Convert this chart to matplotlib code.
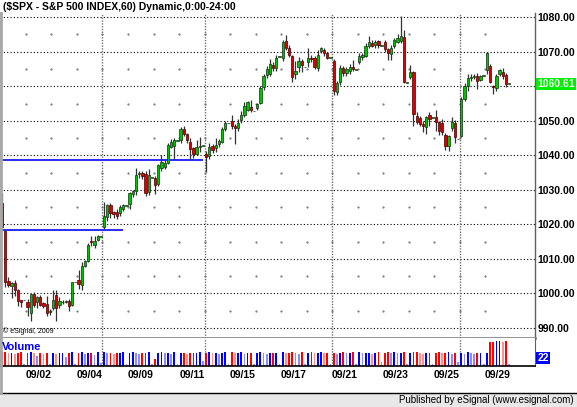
import matplotlib
matplotlib.use("Agg")
import matplotlib.pyplot as plt
import matplotlib.transforms as mtransforms
from matplotlib.patches import Rectangle
from matplotlib.lines import Line2D
import numpy as np

plt.rcParams['font.family'] = ['Liberation Sans', 'DejaVu Sans']

# trading days on the chart, 8 hourly bars each (last one is the 16:00 stub)
days = ['09/01', '09/02', '09/03', '09/04', '09/08', '09/09', '09/10', '09/11',
        '09/14', '09/15', '09/16', '09/17', '09/18', '09/21', '09/22', '09/23',
        '09/24', '09/25', '09/28', '09/29']
week_starts = ['09/08', '09/14', '09/21', '09/28']
bars_per_day = 8

opens = [1026.3, 1018.0, 1003.5, 1002.2, 1003.0, 1001.1, 998.0, 998.0,
         997.5, 994.4, 999.7, 997.4, 999.0, 997.2, 997.0, 994.5,
         995.9, 999.6, 996.8, 997.4, 997.6, 997.7, 996.7, 1003.2,
         1003.8, 1002.5, 1008.0, 1009.4, 1015.3, 1014.0, 1015.5, 1016.4,
         1019.2, 1022.0, 1025.5, 1023.5, 1023.5, 1023.2, 1024.5, 1025.4,
         1025.8, 1028.9, 1029.6, 1034.6, 1034.9, 1034.6, 1029.4, 1033.4,
         1033.3, 1031.8, 1036.3, 1036.6, 1037.9, 1042.4, 1042.7, 1044.1,
         1044.3, 1047.5, 1046.2, 1044.0, 1042.0, 1040.5, 1042.5, 1042.7,
         1040.3, 1039.7, 1042.7, 1042.0, 1043.2, 1043.8, 1047.7, 1049.3,
         1049.8, 1048.5, 1048.0, 1050.1, 1051.8, 1053.0, 1054.0, 1052.7,
         1053.8, 1055.1, 1059.7, 1063.3, 1063.5, 1066.1, 1065.2, 1068.6,
         1068.1, 1073.0, 1071.2, 1068.7, 1063.5, 1065.6, 1067.4, 1065.5,
         1066.9, 1068.3, 1068.3, 1065.4, 1070.1, 1070.5, 1069.5, 1068.3,
         1067.3, 1058.2, 1061.2, 1065.2, 1063.8, 1064.4, 1065.5, 1064.7,
         1066.9, 1068.5, 1068.9, 1071.7, 1072.5, 1071.9, 1073.2, 1071.7,
         1072.9, 1070.9, 1069.4, 1071.7, 1072.9, 1073.0, 1074.4, 1060.9,
         1062.6, 1064.2, 1051.5, 1050.7, 1049.1, 1048.1, 1051.7, 1050.8,
         1051.0, 1049.6, 1049.3, 1045.9, 1042.6, 1047.9, 1049.4, 1044.6,
         1045.7, 1056.3, 1060.0, 1062.3, 1062.6, 1063.0, 1061.8, 1063.0,
         1064.6, 1065.8, 1060.2, 1059.4, 1063.4, 1064.2, 1063.2, 1060.6]
highs = [1029.0, 1018.4, 1004.9, 1003.3, 1003.8, 1001.3, 998.2, 998.0,
         998.4, 999.9, 1000.3, 999.2, 999.5, 997.4, 999.2, 995.5,
         1001.1, 1001.1, 998.9, 998.0, 998.0, 998.4, 1003.3, 1003.2,
         1006.9, 1009.0, 1009.6, 1014.5, 1016.5, 1016.5, 1016.9, 1016.4,
         1026.6, 1026.0, 1026.2, 1024.0, 1024.5, 1025.5, 1026.0, 1025.4,
         1029.4, 1030.0, 1036.2, 1035.5, 1035.5, 1035.5, 1036.0, 1033.4,
         1034.0, 1037.5, 1040.0, 1038.5, 1043.5, 1044.8, 1045.0, 1044.1,
         1048.2, 1048.6, 1046.5, 1045.0, 1042.5, 1044.5, 1045.2, 1042.7,
         1041.2, 1043.5, 1043.2, 1045.0, 1044.8, 1048.2, 1050.0, 1049.3,
         1051.8, 1049.0, 1050.5, 1052.7, 1055.5, 1055.8, 1056.0, 1052.7,
         1055.2, 1060.0, 1063.5, 1066.0, 1068.0, 1066.9, 1069.0, 1068.6,
         1073.5, 1074.8, 1072.0, 1069.1, 1067.4, 1068.5, 1068.0, 1065.5,
         1071.0, 1069.0, 1068.8, 1070.4, 1071.5, 1071.2, 1070.0, 1068.3,
         1068.0, 1061.5, 1066.2, 1066.0, 1065.5, 1066.3, 1067.7, 1064.7,
         1069.5, 1069.5, 1072.5, 1074.5, 1073.5, 1073.5, 1073.5, 1071.7,
         1073.5, 1071.0, 1072.0, 1074.0, 1075.0, 1080.2, 1076.3, 1060.9,
         1066.1, 1064.5, 1052.5, 1051.5, 1050.0, 1051.5, 1052.5, 1050.8,
         1053.0, 1050.0, 1050.5, 1046.5, 1046.0, 1051.0, 1050.2, 1044.6,
         1057.0, 1061.0, 1063.5, 1063.5, 1063.6, 1063.8, 1063.3, 1063.0,
         1070.0, 1066.5, 1060.5, 1063.5, 1065.0, 1065.3, 1063.8, 1060.6]
lows = [1018.4, 1002.0, 1002.0, 998.6, 999.4, 996.5, 996.1, 998.0,
        993.4, 991.9, 996.0, 995.7, 996.5, 995.7, 993.6, 993.8,
        995.3, 992.0, 995.8, 997.0, 997.2, 995.0, 996.5, 1003.2,
        1001.3, 1001.0, 1007.6, 1009.0, 1013.6, 1013.3, 1015.2, 1016.4,
        1018.8, 1021.0, 1021.8, 1021.9, 1021.5, 1022.5, 1024.0, 1025.4,
        1024.4, 1028.0, 1028.5, 1033.5, 1033.0, 1028.3, 1028.5, 1033.4,
        1028.7, 1031.0, 1035.5, 1035.9, 1037.5, 1042.0, 1039.0, 1044.1,
        1043.5, 1045.5, 1043.5, 1039.0, 1039.2, 1040.0, 1041.0, 1042.7,
        1035.2, 1039.0, 1040.8, 1041.0, 1042.5, 1043.5, 1047.0, 1049.3,
        1047.5, 1043.4, 1047.0, 1049.5, 1051.0, 1052.7, 1052.5, 1052.7,
        1053.0, 1054.8, 1059.0, 1062.5, 1063.0, 1064.5, 1064.5, 1068.6,
        1067.4, 1070.5, 1068.5, 1061.2, 1062.0, 1064.0, 1064.0, 1065.5,
        1065.5, 1067.0, 1064.9, 1064.5, 1069.5, 1068.8, 1068.0, 1068.3,
        1057.5, 1057.5, 1060.5, 1063.0, 1063.0, 1063.5, 1064.5, 1064.7,
        1066.3, 1067.5, 1068.5, 1071.0, 1071.5, 1071.0, 1071.0, 1071.7,
        1070.0, 1067.7, 1067.7, 1071.0, 1072.5, 1072.5, 1060.9, 1060.9,
        1062.0, 1048.6, 1049.0, 1048.5, 1046.8, 1046.2, 1048.5, 1050.8,
        1047.0, 1045.9, 1045.8, 1041.6, 1041.2, 1047.0, 1043.5, 1044.6,
        1045.3, 1055.8, 1058.5, 1061.5, 1062.0, 1059.2, 1061.5, 1063.0,
        1063.5, 1060.8, 1057.8, 1058.5, 1063.0, 1062.0, 1059.8, 1060.6]
closes = [1019.1, 1003.4, 1002.4, 1003.0, 1001.1, 997.9, 997.5, 998.0,
          996.0, 999.7, 996.8, 998.9, 996.8, 996.5, 994.4, 994.8,
          998.0, 995.8, 997.7, 997.6, 997.8, 996.5, 1003.2, 1003.2,
          1002.8, 1008.0, 1009.3, 1014.1, 1014.8, 1015.2, 1016.5, 1016.4,
          1022.4, 1025.6, 1023.3, 1023.0, 1022.5, 1025.1, 1025.5, 1025.4,
          1029.0, 1029.8, 1034.4, 1034.9, 1034.0, 1029.2, 1034.2, 1033.4,
          1031.5, 1037.1, 1038.1, 1037.9, 1043.1, 1043.8, 1044.4, 1044.1,
          1047.5, 1046.2, 1044.3, 1041.7, 1040.5, 1042.5, 1042.6, 1042.7,
          1039.5, 1042.4, 1041.6, 1043.0, 1044.1, 1047.7, 1049.3, 1049.3,
          1048.4, 1047.8, 1049.5, 1051.8, 1054.4, 1055.5, 1053.0, 1052.7,
          1054.9, 1059.4, 1063.0, 1065.1, 1066.4, 1065.2, 1068.3, 1068.6,
          1072.9, 1071.2, 1069.1, 1062.6, 1064.3, 1067.4, 1066.2, 1065.5,
          1068.1, 1067.8, 1065.7, 1069.1, 1071.1, 1069.5, 1068.3, 1068.3,
          1058.5, 1060.8, 1065.4, 1063.8, 1064.9, 1065.7, 1065.0, 1064.7,
          1068.9, 1069.1, 1071.7, 1072.7, 1071.7, 1072.8, 1071.9, 1071.7,
          1070.7, 1069.7, 1071.1, 1073.4, 1074.1, 1074.5, 1061.2, 1060.9,
          1064.2, 1052.0, 1049.6, 1049.1, 1048.4, 1051.1, 1050.6, 1050.8,
          1049.6, 1046.9, 1046.7, 1042.6, 1045.5, 1049.6, 1045.3, 1044.6,
          1056.3, 1060.0, 1062.3, 1062.6, 1063.0, 1061.6, 1063.0, 1063.0,
          1069.7, 1061.3, 1059.7, 1062.9, 1064.6, 1063.0, 1060.6, 1060.6]
volumes = [14, 14, 13, 13, 12, 13, 14, 2,
           13, 14, 13, 10, 13, 12, 13, 2,
           13, 12, 13, 13, 9, 13, 14, 2,
           13, 14, 12, 13, 13, 11, 14, 3,
           14, 13, 13, 12, 13, 13, 14, 2,
           13, 14, 13, 12, 13, 13, 14, 2,
           7, 13, 14, 13, 13, 12, 14, 2,
           13, 13, 12, 13, 13, 13, 14, 5,
           13, 14, 13, 13, 12, 13, 14, 2,
           14, 13, 13, 14, 12, 13, 13, 2,
           13, 14, 13, 12, 13, 13, 13, 2,
           14, 13, 13, 14, 13, 12, 14, 2,
           13, 14, 13, 13, 14, 13, 13, 2,
           13, 12, 13, 14, 13, 13, 14, 2,
           14, 13, 13, 13, 12, 13, 14, 4,
           13, 14, 13, 14, 13, 13, 14, 2,
           13, 14, 14, 13, 12, 13, 13, 2,
           13, 14, 13, 13, 14, 12, 13, 4,
           13, 12, 14, 13, 12, 13, 13, 2,
           13, 24, 24, 25, 25, 24, 25, 2]

# hand drawn support lines: level and last bar they reach
line_levels = [1038.6, 1018.4]
line_end_bars = [63, 38]

last_price = 1060.61
volume_readout = '22'

o = np.array(opens); h = np.array(highs); l = np.array(lows); c = np.array(closes)
v = np.array(volumes)
x = np.arange(len(o))
up = c >= o

fig = plt.figure(figsize=(5.77, 4.07), dpi=100)
ax = fig.add_axes([0.0, 0.1695, 0.9272, 0.7985])
axv = fig.add_axes([0.0, 0.1007, 0.9272, 0.0688], sharex=ax)

# grid
levels = list(range(990, 1081, 10))
for lev in levels:
    ax.axhline(lev, color='black', lw=0.8, ls=(0, (1, 2)), zorder=1)
day_edges = np.arange(len(days)) * bars_per_day - 0.5
mx, my = np.meshgrid(day_edges, np.arange(995, 1080, 10))
ax.plot(mx.ravel(), my.ravel(), ls='none', marker='s', ms=0.6, color='#808080', zorder=1)
for d in week_starts:
    xs = days.index(d) * bars_per_day - 0.5
    ax.axvline(xs, color='#707070', lw=1, ls=(0, (1, 1)), zorder=1)
    axv.axvline(xs, color='#707070', lw=1, ls=(0, (1, 1)), zorder=1)

# support lines
for lev, end in zip(line_levels, line_end_bars):
    ax.hlines(lev, -1, end, color='#2a2aff', lw=1.4, zorder=2)

# candles
ax.vlines(x, l, h, color='#333333', lw=0.9, zorder=3)
body_lo = np.minimum(o, c)
body_h = np.maximum(np.abs(c - o), 0.2)
ax.bar(x[up], body_h[up], bottom=body_lo[up], width=0.72, color='#00c400',
       edgecolor='#103010', linewidth=0.5, zorder=4)
ax.bar(x[~up], body_h[~up], bottom=body_lo[~up], width=0.72, color='#dd0000',
       edgecolor='#4a0000', linewidth=0.5, zorder=4)

ax.set_xlim(-0.63, 167.1)
ax.set_ylim(987.1, 1081.2)
ax.yaxis.tick_right()
ax.set_yticks(levels)
# the 1060 label is covered by the last-price marker
ax.set_yticklabels(['' if abs(t - last_price) < 3 else f'{t:.2f}' for t in levels],
                   fontweight='bold')
ax.tick_params(axis='y', length=0, pad=2, labelsize=7.5)
ax.tick_params(axis='x', length=0, labelbottom=False)
ax.spines['top'].set_visible(False)
ax.spines['left'].set_color('#a8a8a8'); ax.spines['left'].set_linewidth(2)
ax.spines['right'].set_color('#606060'); ax.spines['right'].set_linewidth(1)
ax.spines['bottom'].set_color('#8a8a8a'); ax.spines['bottom'].set_linewidth(2)

trans = mtransforms.blended_transform_factory(ax.transAxes, ax.transData)
ax.text(1.004, last_price, f'{last_price:.2f}', transform=trans, va='center', ha='left',
        color='white', fontsize=7.5, fontweight='bold',
        bbox=dict(boxstyle='square,pad=0.1', fc='#00ee00', ec='none'))
ax.text(0.006, 0.022, '\u00a9 eSignal, 2009', transform=ax.transAxes, fontsize=5,
        va='center', ha='left')

# volume
dark = np.r_[True, v[1:] >= v[:-1]]
vcol = np.where(up, np.where(dark, '#0000ff', '#8c8cff'), np.where(dark, '#ff0000', '#ff9090'))
axv.bar(x, v, width=0.55, color=vcol, zorder=2)
axv.set_ylim(0, 28)
axv.set_yticks([])
ticks = [days.index(d) * bars_per_day + 3.5 for d in days[1::2]]
axv.set_xticks(ticks)
axv.set_xticklabels(days[1::2], fontweight='bold')
axv.tick_params(axis='x', length=0, pad=3, labelsize=7.5)
axv.spines['top'].set_visible(False)
axv.spines['left'].set_color('#a8a8a8'); axv.spines['left'].set_linewidth(2)
axv.spines['right'].set_color('#606060')
axv.spines['bottom'].set_color('black'); axv.spines['bottom'].set_linewidth(1.2)
axv.text(1.004, 0.29, volume_readout, transform=axv.transAxes, va='center', ha='left',
         color='white', fontsize=7.5, fontweight='bold',
         bbox=dict(boxstyle='square,pad=0.1', fc='#0000ff', ec='none'))
fig.text(0.004, 1 - 347 / 407, 'Volume', color='#0000ff', fontweight='bold',
         fontsize=8, va='center', ha='left')

# title and footer
fig.text(0.005, 1 - 7 / 407, '($SPX - S&P 500 INDEX,60) Dynamic,0:00-24:00',
         fontweight='bold', fontsize=7.5, va='center', ha='left')
fig.patches.append(Rectangle((0, 0), 1, 14 / 407, transform=fig.transFigure,
                             fc='#e8e8e8', ec='none', zorder=0))
fig.lines.append(Line2D([0, 1], [14 / 407, 14 / 407], transform=fig.transFigure,
                        color='black', lw=1))
fig.lines.append(Line2D([0.0015, 0.0015], [14 / 407, 1 - 13 / 407], transform=fig.transFigure,
                        color='#a8a8a8', lw=2))
fig.text(574 / 577, 7 / 407, 'Published by eSignal (www.esignal.com)', fontsize=7,
         va='center', ha='right')

fig.savefig('out.png', dpi=100)
